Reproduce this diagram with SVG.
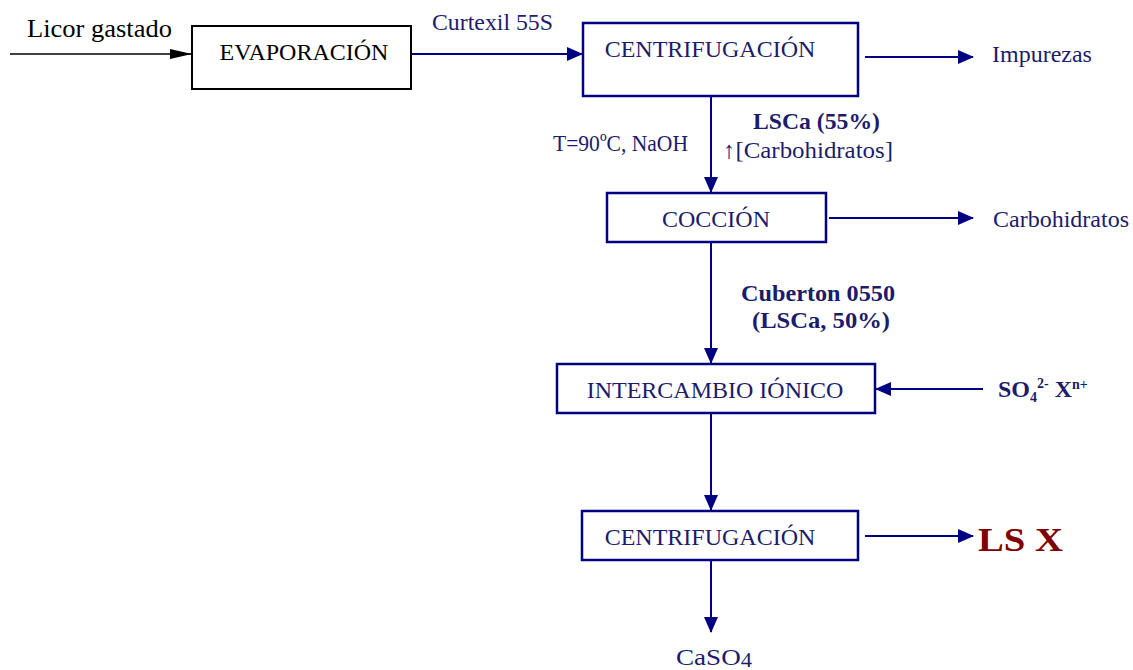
<svg xmlns="http://www.w3.org/2000/svg" width="1133" height="670" viewBox="0 0 1133 670">
<style>
.box{fill:#fff;stroke:#000080;stroke-width:2.5}
.bt{font-family:"Liberation Serif",serif;font-size:24px;fill:#1c1c6a;text-anchor:middle}
.lbl{font-family:"Liberation Serif",serif;fill:#1c1c6a;font-size:24px}
.ln{stroke:#000080;stroke-width:2;fill:none;marker-end:url(#ah)}
</style>
<defs>
<marker id="ah" markerWidth="16" markerHeight="14" refX="15" refY="7" orient="auto" markerUnits="userSpaceOnUse"><path d="M0,0 L16,7 L0,14 Z" fill="#000080"/></marker>
<marker id="ahk" markerWidth="22" markerHeight="10" refX="22" refY="5" orient="auto" markerUnits="userSpaceOnUse"><path d="M0,0 L22,5 L0,10 Z" fill="#000"/></marker>
</defs>
<rect width="1133" height="670" fill="#fff"/>
<g id="connectors">
<line x1="10" y1="54" x2="192" y2="54" stroke="#000" stroke-width="1.5" marker-end="url(#ahk)"/>
<line class="ln" x1="412" y1="54" x2="582" y2="54"/>
<line class="ln" x1="865" y1="57" x2="973" y2="57"/>
<line class="ln" x1="711" y1="96" x2="711" y2="192"/>
<line class="ln" x1="829" y1="218" x2="973" y2="218"/>
<line class="ln" x1="711" y1="243" x2="711" y2="363"/>
<line class="ln" x1="983" y1="389" x2="876" y2="389"/>
<line class="ln" x1="711" y1="414" x2="711" y2="510"/>
<line class="ln" x1="865" y1="536" x2="973" y2="536"/>
<line class="ln" x1="711" y1="561" x2="711" y2="632"/>
</g>
<g id="licor"><text x="27" y="37" font-family="Liberation Serif,serif" font-size="25" fill="#000" textLength="145" lengthAdjust="spacingAndGlyphs">Licor gastado</text></g>
<g id="evaporacion">
<rect x="192" y="26" width="219" height="63" fill="#fff" stroke="#000" stroke-width="2"/>
<text x="304" y="60" font-family="Liberation Serif,serif" font-size="24" fill="#000" text-anchor="middle">EVAPORACIÓN</text>
</g>
<g id="curtexil"><text class="lbl" x="432" y="30" font-size="23" textLength="121" lengthAdjust="spacingAndGlyphs">Curtexil 55S</text></g>
<g id="centrifugacion1">
<rect class="box" x="583" y="23" width="275" height="73"/>
<text class="bt" x="710" y="57">CENTRIFUGACIÓN</text>
</g>
<g id="impurezas"><text class="lbl" x="992" y="62">Impurezas</text></g>
<g id="cond"><text class="lbl" x="553" y="151" font-size="21" textLength="135" lengthAdjust="spacingAndGlyphs">T=90ºC, NaOH</text></g>
<g id="lsca55">
<text class="lbl" x="753" y="129" font-weight="bold" textLength="127" lengthAdjust="spacingAndGlyphs">LSCa (55%)</text>
<text class="lbl" x="723" y="158" textLength="170" lengthAdjust="spacingAndGlyphs">↑[Carbohidratos]</text>
</g>
<g id="coccion">
<rect class="box" x="607" y="193" width="219" height="49"/>
<text class="bt" x="716" y="227">COCCIÓN</text>
</g>
<g id="carbohidratos"><text class="lbl" x="993" y="227">Carbohidratos</text></g>
<g id="cuberton">
<text class="lbl" x="741" y="301" font-weight="bold" textLength="154" lengthAdjust="spacingAndGlyphs">Cuberton 0550</text>
<text class="lbl" x="752" y="328" font-weight="bold" textLength="138" lengthAdjust="spacingAndGlyphs">(LSCa, 50%)</text>
</g>
<g id="intercambio">
<rect class="box" x="557" y="364" width="318" height="49"/>
<text class="bt" x="715" y="398">INTERCAMBIO IÓNICO</text>
</g>
<g id="so4"><text class="lbl" x="998" y="397" font-size="22" font-weight="bold">SO<tspan font-size="14" dy="5">4</tspan><tspan font-size="14" dy="-14">2-</tspan><tspan dy="9"> X</tspan><tspan font-size="14" dy="-8">n+</tspan></text></g>
<g id="centrifugacion2">
<rect class="box" x="582" y="511" width="276" height="49"/>
<text class="bt" x="710" y="545">CENTRIFUGACIÓN</text>
</g>
<g id="lsx"><text x="978" y="551" font-family="Liberation Serif,serif" font-size="33" font-weight="bold" fill="#800000" textLength="85" lengthAdjust="spacingAndGlyphs">LS X</text></g>
<g id="caso4"><text class="lbl" x="676" y="665" font-size="25" textLength="76" lengthAdjust="spacingAndGlyphs">CaSO<tspan font-size="20" dy="2">4</tspan></text></g>
</svg>
